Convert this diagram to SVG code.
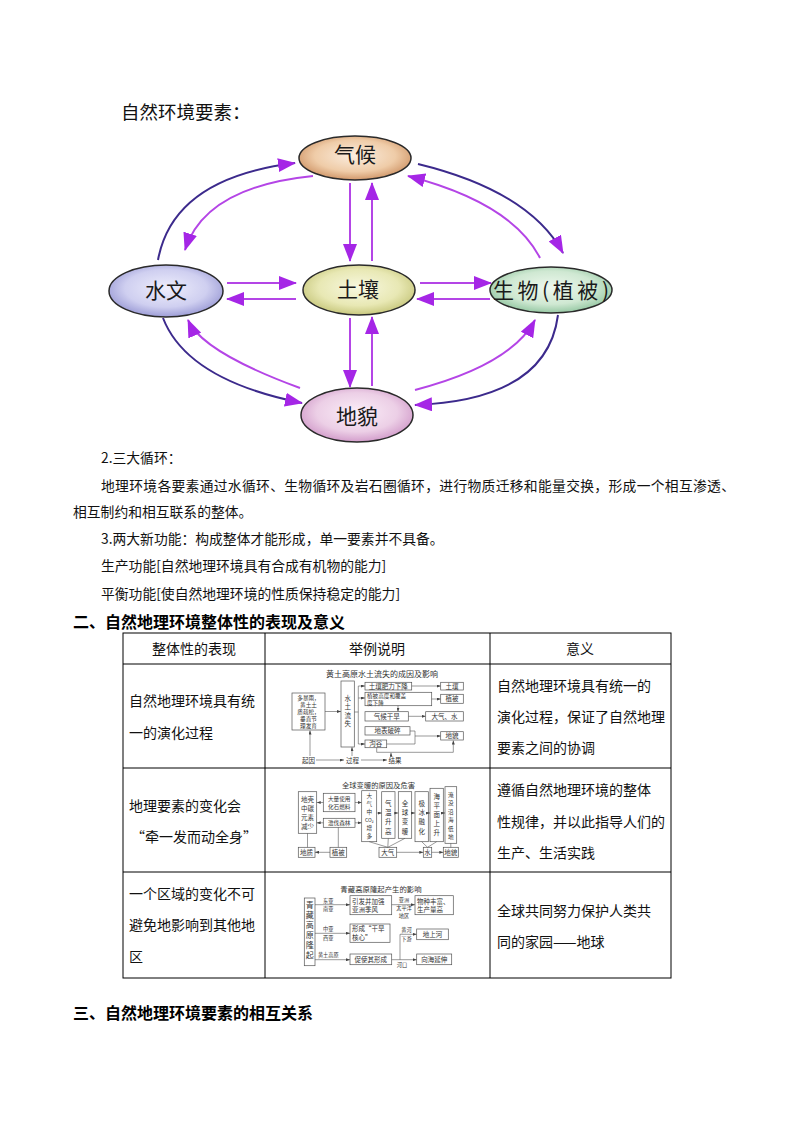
<svg xmlns="http://www.w3.org/2000/svg" width="794" height="1123" viewBox="0 0 794 1123">
<style>
text{font-family:"Noto Sans CJK SC","Noto Sans",sans-serif;fill:#111}
.b{font-size:13.8px}
.h{font-size:16px;font-weight:bold;fill:#000}
.nl{font-size:21px;text-anchor:middle;fill:#1a1a1a}
.tc{font-size:14px}
.th{font-size:14px;text-anchor:middle}
.el{stroke:#2a2a2a;stroke-width:1.5}
.ao{fill:none;stroke:#3c2a8c;stroke-width:2}
.ai{fill:none;stroke:#b445e6;stroke-width:2}
.as{stroke:#b445e6;stroke-width:2;fill:none}
.grid{stroke:#000;stroke-width:1;fill:none}
.bx{fill:#fff;stroke:#555;stroke-width:0.7}
.ln{fill:none;stroke:#555;stroke-width:0.6}
.s{font-size:6.5px;fill:#333;text-anchor:middle}
.s6{font-size:5.6px;fill:#333;text-anchor:middle}
.sl{font-size:6.5px;fill:#333}
.sl6{font-size:5.6px;fill:#333}
.st{font-size:8px;fill:#333;text-anchor:middle}
.sx{font-size:5.2px;fill:#333;text-anchor:middle}
</style>
<defs>
<radialGradient id="gQ" cx="50%" cy="45%" r="60%"><stop offset="0" stop-color="#fbeee0"/><stop offset="0.6" stop-color="#efcca8"/><stop offset="1" stop-color="#c98a5a"/></radialGradient>
<radialGradient id="gW" cx="50%" cy="45%" r="60%"><stop offset="0" stop-color="#eeeefc"/><stop offset="0.6" stop-color="#cfcff0"/><stop offset="1" stop-color="#9090d0"/></radialGradient>
<radialGradient id="gT" cx="50%" cy="45%" r="60%"><stop offset="0" stop-color="#f8f8e0"/><stop offset="0.6" stop-color="#e8e8b4"/><stop offset="1" stop-color="#c0c070"/></radialGradient>
<radialGradient id="gS" cx="50%" cy="45%" r="60%"><stop offset="0" stop-color="#eef8ee"/><stop offset="0.6" stop-color="#cfe8d2"/><stop offset="1" stop-color="#88c098"/></radialGradient>
<radialGradient id="gD" cx="50%" cy="45%" r="60%"><stop offset="0" stop-color="#fbeef8"/><stop offset="0.6" stop-color="#eccfe6"/><stop offset="1" stop-color="#cc90c4"/></radialGradient>
<marker id="ap" markerUnits="userSpaceOnUse" markerWidth="18" markerHeight="14" refX="17" refY="7" orient="auto"><path d="M0,0 L18,7 L0,14 z" fill="#a526e6"/></marker>
<marker id="am" markerUnits="userSpaceOnUse" markerWidth="4" markerHeight="3" refX="4" refY="1.5" orient="auto"><path d="M0,0 L4,1.5 L0,3 z" fill="#444"/></marker>
</defs>
<rect width="794" height="1123" fill="#fff"/>

<text x="121" y="119" style="font-size:18.5px">自然环境要素：</text>

<g id="connectors">
<path class="ao" d="M158,260 Q173,178 295,163" marker-end="url(#ap)"/>
<path class="ai" d="M313,176 Q205,187 185,250" marker-end="url(#ap)"/>
<path class="ao" d="M418,164 Q529,191 563,253" marker-end="url(#ap)"/>
<path class="ai" d="M540,258 Q512,203 408,176" marker-end="url(#ap)"/>
<path class="ao" d="M163,318 Q187,380 302,403" marker-end="url(#ap)"/>
<path class="ai" d="M300,388 Q202,352 188,320" marker-end="url(#ap)"/>
<path class="ai" d="M415,390 Q511,365 535,320" marker-end="url(#ap)"/>
<path class="ao" d="M558,315 Q547,400 415,405" marker-end="url(#ap)"/>
<line class="as" x1="350" y1="183" x2="350" y2="261" marker-end="url(#ap)"/>
<line class="as" x1="372" y1="261" x2="372" y2="183" marker-end="url(#ap)"/>
<line class="as" x1="350" y1="318" x2="350" y2="387" marker-end="url(#ap)"/>
<line class="as" x1="372" y1="386" x2="372" y2="317" marker-end="url(#ap)"/>
<line class="as" x1="227" y1="283" x2="296" y2="283" marker-end="url(#ap)"/>
<line class="as" x1="296" y1="299" x2="227" y2="299" marker-end="url(#ap)"/>
<line class="as" x1="420" y1="283" x2="491" y2="283" marker-end="url(#ap)"/>
<line class="as" x1="490" y1="299" x2="417" y2="299" marker-end="url(#ap)"/>
</g>

<g id="node-qihou"><ellipse class="el" cx="355" cy="158" rx="56" ry="22" fill="url(#gQ)"/><text class="nl" x="355" y="162">气候</text></g>
<g id="node-shuiwen"><ellipse class="el" cx="166" cy="291" rx="57" ry="26" fill="url(#gW)"/><text class="nl" x="166" y="298">水文</text></g>
<g id="node-turang"><ellipse class="el" cx="359" cy="290" rx="56" ry="25" fill="url(#gT)"/><text class="nl" x="358" y="297">土壤</text></g>
<g id="node-shengwu"><ellipse class="el" cx="551" cy="290" rx="61" ry="23" fill="url(#gS)"/><text class="nl" x="551" y="298" textLength="116" lengthAdjust="spacing">生物(植被)</text></g>
<g id="node-dimao"><ellipse class="el" cx="357" cy="415" rx="56" ry="27" fill="url(#gD)"/><text class="nl" x="357" y="424">地貌</text></g>

<g id="body-text">
<text class="b" x="101" y="463">2.三大循环：</text>
<text class="b" x="101" y="491" textLength="634" lengthAdjust="spacing">地理环境各要素通过水循环、生物循环及岩石圈循环，进行物质迁移和能量交换，形成一个相互渗透、</text>
<text class="b" x="73" y="517">相互制约和相互联系的整体。</text>
<text class="b" x="101" y="544">3.两大新功能：构成整体才能形成，单一要素并不具备。</text>
<text class="b" x="101" y="571">生产功能[自然地理环境具有合成有机物的能力]</text>
<text class="b" x="101" y="599">平衡功能[使自然地理环境的性质保持稳定的能力]</text>
<text class="h" x="73" y="628">二、自然地理环境整体性的表现及意义</text>
<text class="h" x="73" y="1019">三、自然地理环境要素的相互关系</text>
</g>

<g id="table">
<rect class="grid" x="123" y="633" width="548" height="345"/>
<line class="grid" x1="123" y1="664" x2="671" y2="664"/>
<line class="grid" x1="123" y1="768" x2="671" y2="768"/>
<line class="grid" x1="123" y1="872" x2="671" y2="872"/>
<line class="grid" x1="265" y1="633" x2="265" y2="978"/>
<line class="grid" x1="490" y1="633" x2="490" y2="978"/>
<text class="th" x="194" y="654">整体性的表现</text>
<text class="th" x="377" y="654">举例说明</text>
<text class="th" x="580" y="654">意义</text>
<text class="tc" x="129" y="706">自然地理环境具有统</text>
<text class="tc" x="129" y="738">一的演化过程</text>
<text class="tc" x="497" y="691">自然地理环境具有统一的</text>
<text class="tc" x="497" y="722">演化过程，保证了自然地理</text>
<text class="tc" x="497" y="753">要素之间的协调</text>
<text class="tc" x="129" y="811">地理要素的变化会</text>
<text class="tc" x="131" y="842">“牵一发而动全身”</text>
<text class="tc" x="497" y="795">遵循自然地理环境的整体</text>
<text class="tc" x="497" y="827">性规律，并以此指导人们的</text>
<text class="tc" x="497" y="858">生产、生活实践</text>
<text class="tc" x="129" y="899">一个区域的变化不可</text>
<text class="tc" x="129" y="930">避免地影响到其他地</text>
<text class="tc" x="129" y="962">区</text>
<text class="tc" x="497" y="916">全球共同努力保护人类共</text>
<text class="tc" x="497" y="947">同的家园——地球</text>
</g>

<g id="fig-loess">
<text class="st" x="382" y="677">黄土高原水土流失的成因及影响</text>
<rect class="bx" x="292" y="693" width="33" height="37"/>
<text class="s6" x="308.5" y="700">多暴雨，</text>
<text class="s6" x="308.5" y="707">黄土土</text>
<text class="s6" x="308.5" y="714">质疏松，</text>
<text class="s6" x="308.5" y="721">垂直节</text>
<text class="s6" x="308.5" y="728">理发育</text>
<line class="ln" x1="325" y1="711.5" x2="341" y2="711.5" marker-end="url(#am)"/>
<rect class="bx" x="341" y="681" width="13.3" height="66"/>
<text class="s" x="347.7" y="700.5">水</text>
<text class="s" x="347.7" y="709">土</text>
<text class="s" x="347.7" y="717.5">流</text>
<text class="s" x="347.7" y="726">失</text>
<polyline class="ln" points="354.3,712 358.3,712"/>
<line class="ln" x1="358.3" y1="686" x2="358.3" y2="744"/>
<line class="ln" x1="358.3" y1="686" x2="365" y2="686" marker-end="url(#am)"/>
<line class="ln" x1="358.3" y1="698" x2="365" y2="698" marker-end="url(#am)"/>
<line class="ln" x1="358.3" y1="744" x2="365" y2="744" marker-end="url(#am)"/>
<rect class="bx" x="365" y="682.3" width="46.7" height="7.7"/>
<text class="s" x="388.3" y="688.5">土壤肥力下降</text>
<line class="ln" x1="411.7" y1="686" x2="440.7" y2="686" marker-end="url(#am)"/>
<rect class="bx" x="440.7" y="682.3" width="22.6" height="7.7"/>
<text class="s" x="452" y="688.5">土壤</text>
<rect class="bx" x="365" y="692.3" width="66.7" height="13.4"/>
<text class="sl6" x="367" y="698.2">植被高度和覆盖</text>
<text class="sl6" x="367" y="704.6">度下降</text>
<line class="ln" x1="431.7" y1="699" x2="440.7" y2="699" marker-end="url(#am)"/>
<rect class="bx" x="440.7" y="694.3" width="22.6" height="9"/>
<text class="s" x="452" y="701.2">植被</text>
<line class="ln" x1="398" y1="705.7" x2="398" y2="711.7" marker-end="url(#am)"/>
<rect class="bx" x="365" y="711.7" width="43.3" height="9.3"/>
<text class="s" x="386.7" y="718.7">气候干旱</text>
<line class="ln" x1="408.3" y1="716.3" x2="425.7" y2="716.3" marker-end="url(#am)"/>
<rect class="bx" x="425.7" y="711.7" width="37.6" height="9.3"/>
<text class="s" x="444.5" y="718.7">大气、水</text>
<rect class="bx" x="365" y="726.7" width="45" height="8.3"/>
<text class="s" x="387.5" y="733.2">地表破碎</text>
<rect class="bx" x="365" y="740" width="21.7" height="7.7"/>
<text class="s" x="375.8" y="746.2">沟谷</text>
<polyline class="ln" points="410,731 415,731 415,744 386.7,744"/>
<line class="ln" x1="415" y1="736" x2="440.7" y2="736" marker-end="url(#am)"/>
<rect class="bx" x="440.7" y="731.7" width="22.6" height="8.3"/>
<text class="s" x="452" y="738.2">地貌</text>
<polyline class="ln" points="376.7,747.7 376.7,752.3 453.3,752.3 453.3,740.5" marker-end="url(#am)"/>
<text class="s" x="308.5" y="762.5">起因</text>
<text class="s" x="352.5" y="762.5">过程</text>
<text class="s" x="395" y="762.5">结果</text>
<line class="ln" x1="316" y1="760" x2="344" y2="760" marker-end="url(#am)"/>
<line class="ln" x1="361" y1="760" x2="387" y2="760" marker-end="url(#am)"/>
<line class="ln" x1="310" y1="756" x2="310" y2="730.5" marker-end="url(#am)"/>
<line class="ln" x1="352" y1="756" x2="352" y2="747.2" marker-end="url(#am)"/>
<line class="ln" x1="391" y1="756" x2="391" y2="752.8" marker-end="url(#am)"/>
</g>

<g id="fig-warming">
<text class="st" x="378.5" y="787.5" style="font-size:7.3px">全球变暖的原因及危害</text>
<rect class="bx" x="298.3" y="791.7" width="18.4" height="41.6"/>
<text class="s" x="307.5" y="801.8">地壳</text>
<text class="s" x="307.5" y="810.8">中碳</text>
<text class="s" x="307.5" y="820">元素</text>
<text class="s" x="307.5" y="829">减少</text>
<rect class="bx" x="323.3" y="793.3" width="31.7" height="18.4"/>
<text class="s6" x="339.2" y="801">大量使用</text>
<text class="s6" x="339.2" y="808.8">化石燃料</text>
<rect class="bx" x="323.3" y="818.3" width="31.7" height="9"/>
<text class="s6" x="339.2" y="825">滥伐森林</text>
<line class="ln" x1="323.3" y1="802.5" x2="316.7" y2="802.5" marker-end="url(#am)"/>
<line class="ln" x1="323.3" y1="822.8" x2="316.7" y2="822.8" marker-end="url(#am)"/>
<line class="ln" x1="355" y1="802.5" x2="361.7" y2="802.5" marker-end="url(#am)"/>
<line class="ln" x1="355" y1="822.8" x2="361.7" y2="822.8" marker-end="url(#am)"/>
<rect class="bx" x="361.7" y="790.7" width="15" height="51"/>
<text class="s6" x="369.2" y="798.3">大</text>
<text class="s6" x="369.2" y="806">气</text>
<text class="s6" x="369.2" y="813.7">中</text>
<text class="s6" x="369.2" y="821.6" style="font-size:5px">CO₂</text>
<text class="s6" x="369.2" y="830">增</text>
<text class="s6" x="369.2" y="837.7">多</text>
<rect class="bx" x="381.7" y="791.7" width="13.3" height="46.6"/>
<text class="s" x="388.3" y="805.8">气</text>
<text class="s" x="388.3" y="815">温</text>
<text class="s" x="388.3" y="824">升</text>
<text class="s" x="388.3" y="834">高</text>
<rect class="bx" x="398.3" y="791.7" width="13.4" height="46.6"/>
<text class="s" x="405" y="805.8">全</text>
<text class="s" x="405" y="815">球</text>
<text class="s" x="405" y="824">变</text>
<text class="s" x="405" y="834">暖</text>
<rect class="bx" x="415" y="791.7" width="13.3" height="50"/>
<text class="s" x="421.7" y="805.8">极</text>
<text class="s" x="421.7" y="815">冰</text>
<text class="s" x="421.7" y="824">融</text>
<text class="s" x="421.7" y="834">化</text>
<rect class="bx" x="430" y="788.3" width="13.3" height="53.4"/>
<text class="s" x="436.7" y="799">海</text>
<text class="s" x="436.7" y="808">平</text>
<text class="s" x="436.7" y="817">面</text>
<text class="s" x="436.7" y="826">上</text>
<text class="s" x="436.7" y="835">升</text>
<rect class="bx" x="445" y="786.7" width="11.7" height="56.6"/>
<text class="s6" x="450.8" y="796.5">淹</text>
<text class="s6" x="450.8" y="805">没</text>
<text class="s6" x="450.8" y="813.5">沿</text>
<text class="s6" x="450.8" y="822">海</text>
<text class="s6" x="450.8" y="830.5">低</text>
<text class="s6" x="450.8" y="839">地</text>
<line class="ln" x1="376.7" y1="813" x2="381.7" y2="813" marker-end="url(#am)"/>
<line class="ln" x1="395" y1="813" x2="398.3" y2="813" marker-end="url(#am)"/>
<line class="ln" x1="411.7" y1="813" x2="415" y2="813" marker-end="url(#am)"/>
<line class="ln" x1="428.3" y1="813" x2="430" y2="813" marker-end="url(#am)"/>
<line class="ln" x1="443.3" y1="813" x2="445" y2="813" marker-end="url(#am)"/>
<rect class="bx" x="298.3" y="847.3" width="16.7" height="10"/>
<text class="s" x="306.6" y="854.7">地质</text>
<rect class="bx" x="330" y="847.3" width="16.7" height="10"/>
<text class="s" x="338.3" y="854.7">植被</text>
<rect class="bx" x="379" y="847.3" width="17.7" height="10"/>
<text class="s" x="387.8" y="854.7">大气</text>
<rect class="bx" x="423.3" y="847.3" width="8.4" height="10"/>
<text class="s" x="427.5" y="854.7">水</text>
<rect class="bx" x="443.3" y="847.3" width="15" height="10"/>
<text class="s" x="450.8" y="854.7">地貌</text>
<line class="ln" x1="307.5" y1="833.3" x2="307.5" y2="847.3"/>
<line class="ln" x1="338.3" y1="827.3" x2="338.3" y2="847.3"/>
<line class="ln" x1="330" y1="852.3" x2="315" y2="852.3" marker-end="url(#am)"/>
<polyline class="ln" points="369.2,841.7 387.8,847.3 388.3,838.3"/>
<line class="ln" x1="405" y1="838.3" x2="387.8" y2="847.3"/>
<line class="ln" x1="396.7" y1="852.3" x2="423.3" y2="852.3" marker-end="url(#am)"/>
<polyline class="ln" points="421.7,841.7 427.5,847.3 436.7,841.7"/>
<line class="ln" x1="431.7" y1="852.3" x2="443.3" y2="852.3" marker-end="url(#am)"/>
<line class="ln" x1="450.8" y1="843.3" x2="450.8" y2="847.3"/>
</g>

<g id="fig-tibet">
<text class="st" x="381" y="891.5" style="font-size:7.4px">青藏高原隆起产生的影响</text>
<rect class="bx" x="304.3" y="898" width="10.7" height="67.7"/>
<text class="s" x="309.7" y="908" style="font-size:8px">青</text>
<text class="s" x="309.7" y="918" style="font-size:8px">藏</text>
<text class="s" x="309.7" y="928" style="font-size:8px">高</text>
<text class="s" x="309.7" y="938" style="font-size:8px">原</text>
<text class="s" x="309.7" y="948" style="font-size:8px">隆</text>
<text class="s" x="309.7" y="958" style="font-size:8px">起</text>
<line class="ln" x1="315" y1="904.7" x2="350" y2="904.7" marker-end="url(#am)"/>
<text class="sx" x="328.3" y="902.5">东亚</text>
<text class="sx" x="328.3" y="911">南亚</text>
<rect class="bx" x="350" y="895.7" width="41.7" height="19"/>
<text class="sl" x="352" y="903.6">引发并加强</text>
<text class="sl" x="352" y="912.2">亚洲季风</text>
<line class="ln" x1="391.7" y1="904.7" x2="415" y2="904.7" marker-end="url(#am)"/>
<text class="sx" x="404" y="902">亚洲</text>
<text class="sx" x="404" y="909.8">太平洋</text>
<text class="sx" x="404" y="917.5">地区</text>
<rect class="bx" x="415" y="895.7" width="38.3" height="19"/>
<text class="sl" x="417" y="903.6">物种丰富、</text>
<text class="sl" x="417" y="912.2">生产量高</text>
<line class="ln" x1="315" y1="933.3" x2="350" y2="933.3" marker-end="url(#am)"/>
<text class="sx" x="328.3" y="930.5">中亚</text>
<text class="sx" x="328.3" y="940">西亚</text>
<rect class="bx" x="350" y="924" width="40" height="18.3"/>
<text class="sl" x="352" y="931.4">形成“干旱</text>
<text class="sl" x="352" y="940">核心”</text>
<line class="ln" x1="315" y1="959.7" x2="350" y2="959.7" marker-end="url(#am)"/>
<text class="sx" x="328.3" y="956.5">黄土高原</text>
<rect class="bx" x="350" y="954" width="41.7" height="10.7"/>
<text class="s" x="370.8" y="961.7">促使其形成</text>
<line class="ln" x1="391.7" y1="959.7" x2="416.7" y2="959.7" marker-end="url(#am)"/>
<polyline class="ln" points="400,959.7 400,934.3 416.7,934.3" marker-end="url(#am)"/>
<text class="sx" x="406.5" y="931.5">黄河</text>
<text class="sx" x="406.5" y="941">下游</text>
<text class="sx" x="402" y="966.5">河口</text>
<rect class="bx" x="416.7" y="929" width="31.6" height="10.7"/>
<text class="s" x="432.5" y="936.7">地上河</text>
<rect class="bx" x="416.7" y="954" width="35" height="10.7"/>
<text class="s" x="434.2" y="961.7">向海延伸</text>
</g>
</svg>
